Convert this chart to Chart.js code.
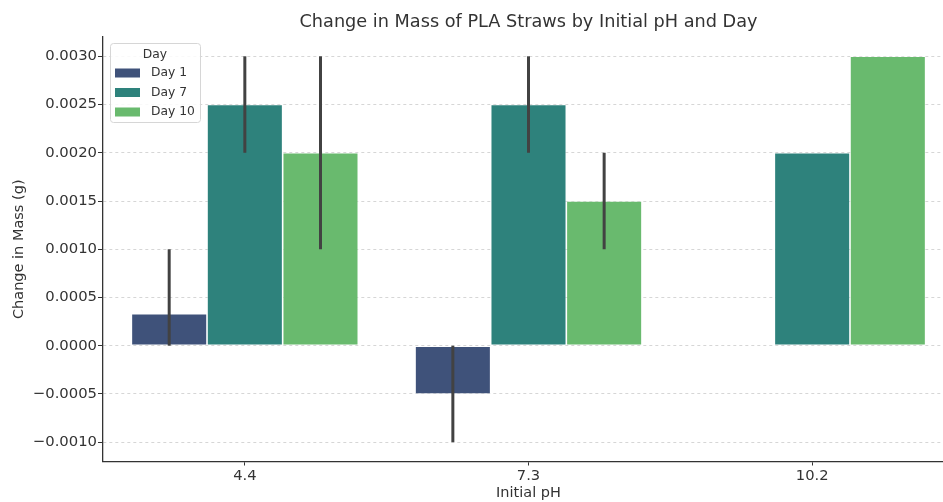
<!DOCTYPE html>
<html>
<head>
<meta charset="utf-8">
<script src="https://cdn.jsdelivr.net/npm/chart.js@4"></script>
<style>
html, body { margin: 0; padding: 0; background: #fff; overflow: hidden; }
#wrap { width: 943px; height: 502px; overflow: hidden; }
</style>
</head>
<body>
<div id="wrap"><canvas id="chart" width="955" height="502"></canvas></div>
<script>
const phLabels = ['4.4', '7.3', '10.2']
const dayLabels = ['Day 1', 'Day 7', 'Day 10']
const dayColors = ['#3f527a', '#2e827c', '#69ba6e']

const day1 = [0.000333, -0.0005, null]
const day7 = [0.0025, 0.0025, 0.002]
const day10 = [0.002, 0.0015, 0.003]

// confidence interval ends
const day1Low = [0, -0.001, null]
const day1High = [0.001, 0, null]
const day7Low = [0.002, 0.002, null]
const day7High = [0.003, 0.003, null]
const day10Low = [0.001, 0.001, null]
const day10High = [0.003, 0.002, null]

const yTicks = [-0.001, -0.0005, 0, 0.0005, 0.001, 0.0015, 0.002, 0.0025, 0.003]

const font = "'DejaVu Sans', sans-serif"
const textColor = '#333'

const makeDataset = (i, values, low, high) => ({
    label: dayLabels[i],
    data: values,
    errLow: low,
    errHigh: high,
    backgroundColor: dayColors[i],
    borderColor: 'rgba(255,255,255,0.35)',
    borderWidth: 0.8,
    borderSkipped: false,
    categoryPercentage: 0.8,
    barPercentage: 1.0
})

const errorBars = {
    id: 'errorBars',
    afterDatasetsDraw(chart) {
        const ctx = chart.ctx
        const y = chart.scales.y
        ctx.save()
        ctx.strokeStyle = '#424242'
        ctx.lineWidth = 3
        chart.data.datasets.forEach((ds, i) => {
            chart.getDatasetMeta(i).data.forEach((bar, j) => {
                const lo = ds.errLow[j], hi = ds.errHigh[j]
                if (lo == null || hi == null) return
                ctx.beginPath()
                ctx.moveTo(bar.x, y.getPixelForValue(lo))
                ctx.lineTo(bar.x, y.getPixelForValue(hi))
                ctx.stroke()
            })
        })
        ctx.restore()
    }
}

const titleAndLegend = {
    id: 'titleAndLegend',
    afterDraw(chart) {
        const ctx = chart.ctx
        const area = chart.chartArea
        ctx.save()

        // title is centred on the axes, which run past the visible right edge
        ctx.fillStyle = textColor
        ctx.font = `17.7px ${font}`
        ctx.textAlign = 'center'
        ctx.textBaseline = 'middle'
        ctx.fillText('Change in Mass of PLA Straws by Initial pH and Day', (area.left + area.right) / 2, 22)

        const bx = area.left + 7, by = area.top + 6, bw = 90, bh = 79
        ctx.beginPath()
        ctx.roundRect(bx + 0.5, by + 0.5, bw, bh, 3)
        ctx.fillStyle = 'rgba(255,255,255,0.85)'
        ctx.fill()
        ctx.strokeStyle = '#d6d6d6'
        ctx.lineWidth = 1
        ctx.stroke()

        ctx.font = `12.3px ${font}`
        ctx.fillStyle = textColor
        ctx.fillText('Day', bx + 45, by + 12)

        ctx.textAlign = 'left'
        chart.data.datasets.forEach((ds, i) => {
            const cy = by + 30 + i * 19.5
            ctx.fillStyle = ds.backgroundColor
            ctx.fillRect(bx + 5, cy - 4.5, 25, 9)
            ctx.fillStyle = textColor
            ctx.fillText(ds.label, bx + 41, cy)
        })
        ctx.restore()
    }
}

new Chart(document.getElementById('chart'), {
    type: 'bar',
    data: {
        labels: phLabels,
        datasets: [
            makeDataset(0, day1, day1Low, day1High),
            makeDataset(1, day7, day7Low, day7High),
            makeDataset(2, day10, day10Low, day10High)
        ]
    },
    options: {
        responsive: false,
        animation: false,
        devicePixelRatio: 1,
        layout: { padding: { top: 37, right: 1, left: 0, bottom: 0 } },
        plugins: {
            legend: { display: false },
            title: { display: false },
            tooltip: { enabled: false }
        },
        scales: {
            x: {
                offset: true,
                grid: {
                    offset: false,
                    drawOnChartArea: false,
                    color: 'rgba(0,0,0,0)',
                    tickColor: textColor,
                    tickLength: 4,
                    tickWidth: 1
                },
                border: { color: textColor, width: 1.3 },
                ticks: { color: textColor, font: { family: font, size: 14.7 }, padding: 2 },
                title: { display: true, text: 'Initial pH', color: textColor, font: { family: font, size: 14.5 }, padding: { top: 0, bottom: 0 } },
                afterFit: scale => { scale.height = 40.5 }
            },
            y: {
                min: -0.0012,
                max: 0.0032,
                afterBuildTicks: scale => { scale.ticks = yTicks.map(v => ({ value: v })) },
                grid: {
                    color: '#cccccc',
                    lineWidth: 0.8,
                    tickColor: textColor,
                    tickLength: 5,
                    tickWidth: 1,
                    tickBorderDash: []
                },
                border: { color: textColor, width: 1.3, dash: [3, 3] },
                ticks: {
                    color: textColor,
                    font: { family: font, size: 14.8 },
                    padding: 1,
                    callback: v => v.toFixed(4).replace('-', '\u2212')
                },
                title: { display: true, text: 'Change in Mass (g)', color: textColor, font: { family: font, size: 14.5 }, padding: { top: 11, bottom: 0 } },
                afterFit: scale => { scale.width = 103 }
            }
        }
    },
    plugins: [errorBars, titleAndLegend]
})
</script>
</body>
</html>
